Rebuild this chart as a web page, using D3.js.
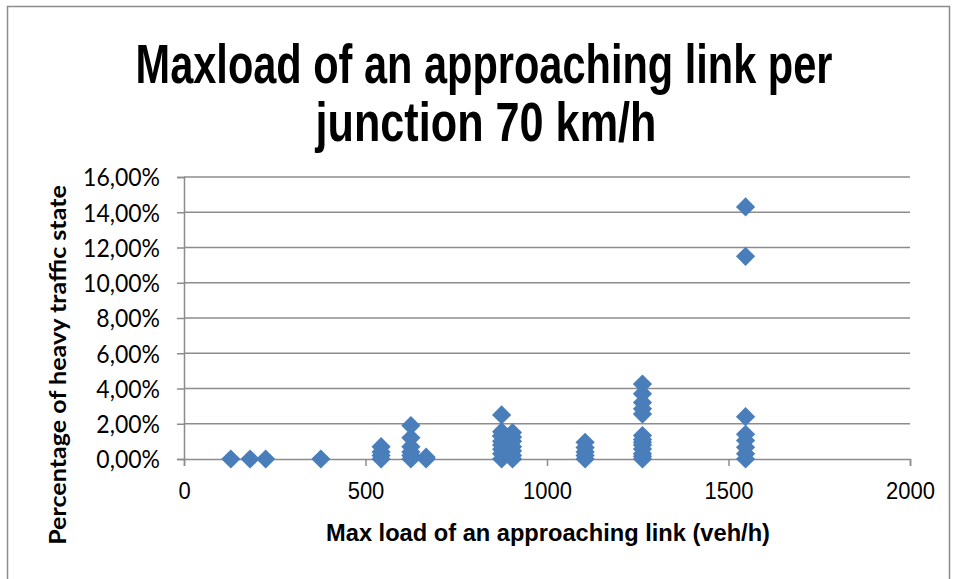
<!DOCTYPE html>
<html>
<head>
<meta charset="utf-8">
<script src="https://cdn.jsdelivr.net/npm/d3@7"></script>
<style>
  html, body { margin: 0; padding: 0; background: #fff; }
  svg { display: block; }
</style>
</head>
<body>
<svg id="chart" width="957" height="579"></svg>
<script>
// Max load per approaching link (veh/h) and share of heavy traffic state (%)
const maxLoad = [
  129, 182, 225, 377,
  543, 543, 543, 543,
  625, 625, 625, 625, 625, 625,
  667, 667,
  875, 875, 875, 875, 875, 875, 875, 875, 875,
  905, 905, 905, 905, 905, 905, 905,
  1105, 1105, 1105, 1105, 1105,
  1263, 1263, 1263, 1263, 1263, 1263, 1263, 1263, 1263, 1263, 1263, 1263, 1263,
  1547, 1547, 1547, 1547, 1547, 1547, 1547, 1547
];
const heavyShare = [
  0, 0, 0, 0,
  0, 0.2, 0.4, 0.7,
  0, 0.2, 0.4, 0.7, 1.2, 1.9,
  0, 0.1,
  0, 0.3, 0.55, 0.8, 1.0, 1.3, 1.55, 1.3, 2.5,
  0, 0.2, 0.45, 0.7, 1.0, 1.25, 1.5,
  0, 0.2, 0.4, 0.65, 0.95,
  0, 0.3, 0.57, 0.95, 1.33, 2.55, 2.85, 3.2, 3.7, 4.25, 0.8, 1.1, 0.15,
  0, 0.3, 0.66, 1.05, 1.4, 2.4, 11.5, 14.3
];
const xTicks = [0, 500, 1000, 1500, 2000];
const yTicks = [0, 2, 4, 6, 8, 10, 12, 14, 16];
const titleLines = ["Maxload of an approaching link per", "junction 70 km/h"];
const xTitle = "Max load of an approaching link (veh/h)";
const yTitle = "Percentage of heavy traffic state";

const svg = d3.select("#chart");
const plot = { left: 184, right: 910, top: 177, bottom: 459 };
const gridColor = "#8c8c8c";
const markColor = "#4a7ebb";
const narrow = "'Liberation Sans Narrow', 'Arial Narrow', 'Liberation Sans', Arial, sans-serif";
const label = "Lato, 'Open Sans', 'Noto Sans', sans-serif";

const x = d3.scaleLinear().domain([0, 2000]).range([plot.left, plot.right]);
const y = d3.scaleLinear().domain([0, 16]).range([plot.bottom, plot.top]);

// chart frame
svg.append("rect")
  .attr("x", 7.5).attr("y", 6.5).attr("width", 942).attr("height", 600)
  .attr("fill", "#fff").attr("stroke", "#8c8c8c").attr("stroke-width", 1.5);

// fit a text node into a given width and cap height
function fitText(sel, targetWidth, capHeight, capRatio) {
  const node = sel.node();
  const w = node.getComputedTextLength();
  const fs = parseFloat(sel.attr("font-size"));
  const sy = capHeight / (fs * capRatio);
  const sx = targetWidth / w;
  const tx = +sel.attr("data-x"), ty = +sel.attr("data-y");
  sel.attr("x", 0).attr("y", 0)
    .attr("transform", `translate(${tx},${ty}) scale(${sx},${sy})`);
}

// title
const titleSpec = [
  { text: titleLines[0], cx: 484, base: 83, w: 697 },
  { text: titleLines[1], cx: 486, base: 141, w: 341 }
];
titleSpec.forEach(t => {
  const s = svg.append("text")
    .attr("data-x", t.cx).attr("data-y", t.base)
    .attr("text-anchor", "middle")
    .attr("font-family", narrow).attr("font-weight", "bold")
    .attr("font-size", 40).attr("fill", "#000")
    .text(t.text);
  fitText(s, t.w, 40, 0.716);
});

// horizontal gridlines
svg.append("g").selectAll("line")
  .data(yTicks.filter(d => d > 0))
  .join("line")
  .attr("x1", plot.left).attr("x2", plot.right)
  .attr("y1", d => y(d)).attr("y2", d => y(d))
  .attr("stroke", gridColor).attr("stroke-width", 1.5);

// y axis
const yAxis = d3.axisLeft(y).tickValues(yTicks).tickSize(7).tickPadding(8)
  .tickFormat(d => d3.format(".2f")(d).replace(".", ",") + "%");
const gy = svg.append("g").attr("transform", `translate(${plot.left},0)`).call(yAxis);
gy.select(".domain").attr("stroke", gridColor).attr("stroke-width", 1.5);
gy.selectAll(".tick line").attr("stroke", gridColor).attr("stroke-width", 1.5);
const yLabels = gy.selectAll(".tick text")
  .attr("font-family", label).attr("font-size", 23).attr("fill", "#000")
  .attr("x", 0).attr("dy", "0.35em");
{
  const widest = d3.max(yLabels.nodes(), n => n.getComputedTextLength());
  const sx = 77 / widest;
  yLabels.attr("transform", `translate(-24,0) scale(${sx},1.1)`);
}

// x axis
const xAxis = d3.axisBottom(x).tickValues(xTicks).tickSize(7).tickPadding(10)
  .tickFormat(d3.format("d"));
const gx = svg.append("g").attr("transform", `translate(0,${plot.bottom})`).call(xAxis);
gx.select(".domain").attr("stroke", gridColor).attr("stroke-width", 1.5);
gx.selectAll(".tick line").attr("stroke", gridColor).attr("stroke-width", 1.5)
  .attr("y1", 0);
gx.selectAll(".tick text")
  .attr("font-family", narrow).attr("font-size", 22).attr("fill", "#000")
  .attr("dy", "0.6em")
  .attr("transform", "translate(0,7) scale(1,1.1)");

// axis titles
const xt = svg.append("text")
  .attr("data-x", 548).attr("data-y", 541)
  .attr("text-anchor", "middle")
  .attr("font-family", narrow).attr("font-weight", "bold")
  .attr("font-size", 20).attr("fill", "#000")
  .text(xTitle);
fitText(xt, 444, 17, 0.716);

const yt = svg.append("text")
  .attr("text-anchor", "middle")
  .attr("font-family", label).attr("font-weight", "bold")
  .attr("font-size", 21).attr("fill", "#000")
  .text(yTitle);
{
  const w = yt.node().getComputedTextLength();
  const sx = 360 / w;
  yt.attr("transform", `translate(66,365) rotate(-90) scale(${sx},1.05)`);
}

// points
const diamond = d3.symbol().type(d3.symbolSquare).size(185);
svg.append("g").selectAll("path")
  .data(maxLoad.map((v, i) => ({ load: v, share: heavyShare[i] })))
  .join("path")
  .attr("d", diamond)
  .attr("transform", d => `translate(${x(d.load)},${y(d.share)}) rotate(45)`)
  .attr("fill", markColor);
</script>
</body>
</html>
